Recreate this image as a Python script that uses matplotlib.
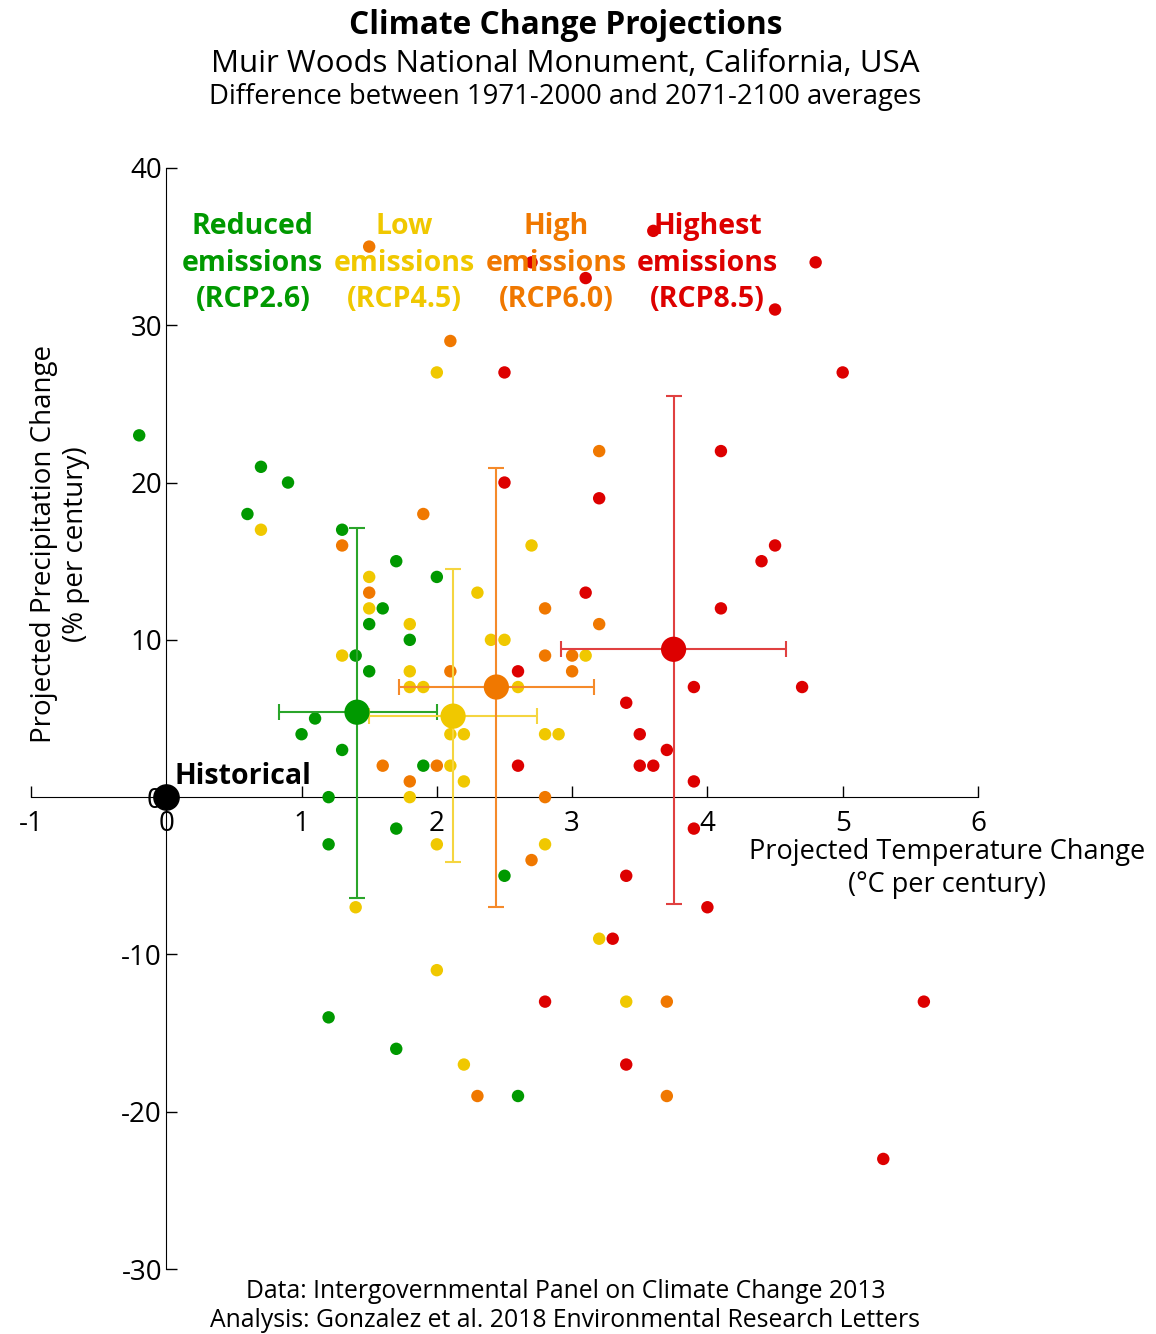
import numpy as np
import matplotlib.pyplot as plt

plt.rcParams['font.family'] = ['Open Sans', 'DejaVu Sans']
plt.rcParams['axes.unicode_minus'] = False

########### Model projections (temperature C/century, precipitation %/century)

rcp26_t = [-0.2, 0.7, 0.9, 0.6, 1.3, 1.7, 2.0, 1.6, 1.5, 1.8, 1.4, 1.5, 1.1, 1.0, 1.3, 1.9, 1.2, 1.7, 1.2, 2.5, 1.2, 1.7, 2.6]
rcp26_p = [23, 21, 20, 18, 17, 15, 14, 12, 11, 10, 9, 8, 5, 4, 3, 2, 0, -2, -3, -5, -14, -16, -19]

rcp45_t = [2.0, 0.7, 2.7, 1.5, 2.3, 1.5, 1.8, 2.4, 2.5, 1.3, 3.1, 1.8, 1.8, 1.9, 2.6, 2.1, 2.2, 2.8, 2.9, 2.1, 2.2, 1.8, 2.0, 2.8, 1.4, 3.2, 2.0, 3.4, 2.2]
rcp45_p = [27, 17, 16, 14, 13, 12, 11, 10, 10, 9, 9, 8, 7, 7, 7, 4, 4, 4, 4, 2, 1, 0, -3, -3, -7, -9, -11, -13, -17]

rcp60_t = [1.5, 2.1, 3.2, 1.9, 1.3, 1.5, 2.8, 3.2, 2.8, 3.0, 3.0, 2.1, 1.6, 2.0, 1.8, 2.8, 2.7, 3.7, 2.3, 3.7]
rcp60_p = [35, 29, 22, 18, 16, 13, 12, 11, 9, 9, 8, 8, 2, 2, 1, 0, -4, -13, -19, -19]

rcp85_t = [3.6, 2.7, 4.8, 3.1, 4.5, 2.5, 5.0, 4.1, 2.5, 3.2, 4.5, 4.4, 3.1, 4.1, 2.6, 3.9, 4.7, 3.4, 3.5, 3.7, 3.5, 3.6, 2.6, 3.9, 3.9, 3.4, 4.0, 3.3, 2.8, 3.4, 5.6, 5.3]
rcp85_p = [36, 34, 34, 33, 31, 27, 27, 22, 20, 19, 16, 15, 13, 12, 8, 7, 7, 6, 4, 3, 2, 2, 2, 1, -2, -5, -7, -9, -13, -17, -13, -23]

########### Ensemble averages and ranges

mean_t = [1.41, 2.12, 2.44, 3.75]
mean_p = [5.4, 5.15, 7.0, 9.4]
t_lo = [0.83, 1.50, 1.72, 2.92]
t_hi = [2.00, 2.74, 3.16, 4.58]
p_lo = [-6.4, -4.1, -7.0, -6.8]
p_hi = [17.1, 14.5, 20.9, 25.5]

names = ['Reduced\nemissions\n(RCP2.6)', 'Low\nemissions\n(RCP4.5)',
         'High\nemissions\n(RCP6.0)', 'Highest\nemissions\n(RCP8.5)']
colors = ['#009900', '#f0c800', '#f07800', '#dd0000']
bar_colors = ['#2aa52a', '#f5d540', '#f58a2a', '#e04040']
label_x = [0.64, 1.76, 2.88, 4.0]

series = [(rcp26_t, rcp26_p), (rcp45_t, rcp45_p), (rcp60_t, rcp60_p), (rcp85_t, rcp85_p)]

fig = plt.figure(figsize=(11.56, 13.34), dpi=100)
ax = fig.add_axes([0.0268, 0.0487, 0.8192, 0.8254])

for i, (t, p) in enumerate(series):
    ax.scatter(t, p, s=80, color=colors[i], edgecolors='none', zorder=3)

for i in range(4):
    ax.errorbar(mean_t[i], mean_p[i],
                xerr=[[mean_t[i] - t_lo[i]], [t_hi[i] - mean_t[i]]],
                yerr=[[mean_p[i] - p_lo[i]], [p_hi[i] - mean_p[i]]],
                fmt='none', ecolor=bar_colors[i], elinewidth=1.5, capsize=6, capthick=1.5, zorder=4)
    ax.scatter(mean_t[i], mean_p[i], s=330, color=colors[i], edgecolors='none', zorder=5)
    ax.text(label_x[i], 37.2, names[i], color=colors[i], fontsize=20.5, fontweight='bold',
            ha='center', va='top', linespacing=1.35, zorder=6)

ax.scatter([0], [0], s=330, color='black', zorder=6)
ax.text(0.06, 0.4, 'Historical', fontsize=20.5, fontweight='bold', ha='left', va='bottom')

ax.set_xlim(-1, 6)
ax.set_ylim(-30, 40)
ax.spines['left'].set_position(('data', 0))
ax.spines['bottom'].set_position(('data', 0))
ax.spines['top'].set_visible(False)
ax.spines['right'].set_visible(False)
ax.set_xticks(range(-1, 7))
ax.set_yticks(range(-30, 41, 10))
ax.tick_params(direction='in', length=8, labelsize=20, width=1)
ax.tick_params(axis='x', pad=9)
ax.tick_params(axis='y', pad=3)

fig.text(0.819, 0.349, 'Projected Temperature Change\n(\u00b0C per century)', fontsize=19.5,
         ha='center', va='center', linespacing=1.22)
fig.text(0.052, 0.592, 'Projected Precipitation Change\n(% per century)', fontsize=20,
         ha='center', va='center', rotation=90, linespacing=1.2)

fig.text(0.489, 0.981, 'Climate Change Projections', fontsize=22.8, fontweight='bold', ha='center', va='center')
fig.text(0.489, 0.952, 'Muir Woods National Monument, California, USA', fontsize=22.5, ha='center', va='center')
fig.text(0.489, 0.927, 'Difference between 1971-2000 and 2071-2100 averages', fontsize=19.8, ha='center', va='center')
fig.text(0.489, 0.032, 'Data: Intergovernmental Panel on Climate Change 2013', fontsize=17.8, ha='center', va='center')
fig.text(0.489, 0.010, 'Analysis: Gonzalez et al. 2018 Environmental Research Letters', fontsize=17.8, ha='center', va='center')

plt.savefig('out.png', dpi=100)
